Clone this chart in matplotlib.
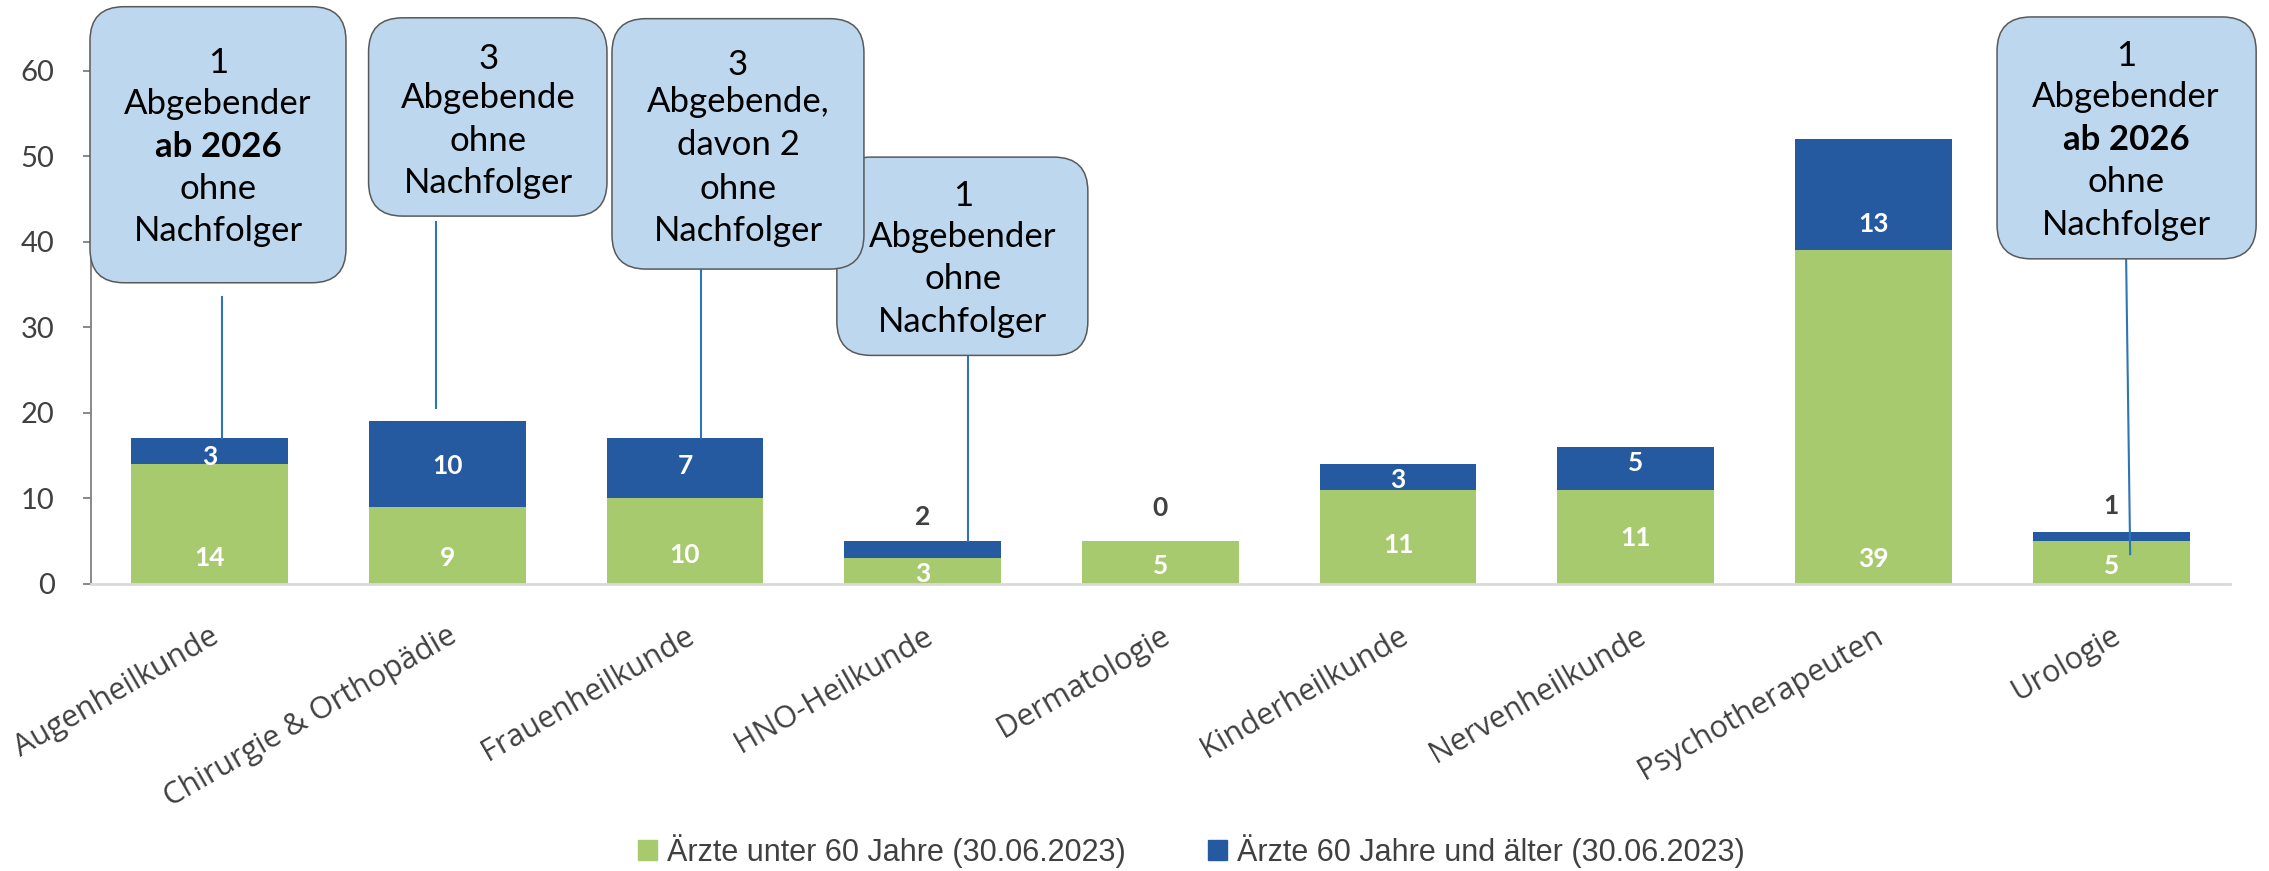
import matplotlib
matplotlib.use("Agg")
import matplotlib.pyplot as plt
from matplotlib.patches import FancyBboxPatch, Patch
import numpy as np

# Daten
fachgruppen = ["Augenheilkunde", "Chirurgie & Orthopädie", "Frauenheilkunde",
               "HNO-Heilkunde", "Dermatologie", "Kinderheilkunde",
               "Nervenheilkunde", "Psychotherapeuten", "Urologie"]
unter60 = [14, 9, 10, 3, 5, 11, 11, 39, 5]
ab60 = [3, 10, 7, 2, 0, 3, 5, 13, 1]
legende = ["Ärzte unter 60 Jahre (30.06.2023)", "Ärzte 60 Jahre und älter (30.06.2023)"]

# Lage der Zahlen in den Balken (wie im Original verschoben)
y_lbl_gruen = [3.0, 3.0, 3.3, 1.1, 2.1, 4.5, 5.3, 2.9, 2.1]
y_lbl_blau = [14.8, 13.8, 13.8, 7.8, 8.8, 12.1, 14.1, 42.1, 9.1]

gruen = "#A8CA6E"
blau = "#255AA0"
grau = "#404040"

# Legenden-Kästen: Zeilen, Kasten (x0, x1, y0, y1), Zeilen-y, Linie (x0, y0, x1, y1), zorder
callouts = [
    (["1", "Abgebender", "**ab 2026", "ohne", "Nachfolger"],
     (-0.503, 0.574, 35.2, 67.5), 0.036, [60.9, 56.1, 51.1, 46.2, 41.3],
     (0.052, 33.5, 0.052, 17), 10),
    (["3", "Abgebende", "ohne", "Nachfolger"],
     (0.669, 1.672, 43.0, 66.2), 1.172, [61.4, 56.8, 51.8, 46.9],
     (0.953, 42.3, 0.953, 20.5), 10),
    (["1", "Abgebender", "ohne", "Nachfolger"],
     (2.639, 3.695, 26.7, 49.9), 3.169, [45.3, 40.6, 35.6, 30.6],
     (3.191, 26.7, 3.191, 5), 8),
    (["3", "Abgebende,", "davon 2", "ohne", "Nachfolger"],
     (1.693, 2.753, 36.8, 66.1), 2.223, [60.7, 56.3, 51.3, 46.2, 41.2],
     (2.066, 36.8, 2.066, 17), 12),
    (["1", "Abgebender", "**ab 2026", "ohne", "Nachfolger"],
     (7.520, 8.610, 38.0, 66.3), 8.063, [61.7, 56.9, 51.9, 47.0, 42.0],
     (8.063, 38.0, 8.080, 3.45), 10),
]

fig = plt.figure(figsize=(22.69, 8.71), dpi=100)
ax = fig.add_axes([90.7 / 2269, (871 - 583.6) / 871, (2230 - 90.7) / 2269, (583.6 - 70.8) / 871])

x = np.arange(len(fachgruppen))
ax.bar(x, unter60, width=0.66, color=gruen, zorder=2)
ax.bar(x, ab60, width=0.66, bottom=unter60, color=blau, zorder=2)

ax.set_xlim(-0.5, len(fachgruppen) - 0.5)
ax.set_ylim(0, 60)
ax.set_yticks(range(0, 61, 10))
ax.tick_params(axis="y", length=6, width=1.3, color="#7F7F7F", pad=20,
               labelsize=21, labelcolor=grau)
for t in ax.get_yticklabels():
    t.set_family("Lato")
ax.set_xticks(x)
ax.set_xticklabels(fachgruppen, rotation=30, ha="right", rotation_mode="anchor",
                   fontsize=22, color=grau, family="Open Sans")
ax.tick_params(axis="x", length=0, pad=27)

for s in ["top", "right"]:
    ax.spines[s].set_visible(False)
ax.spines["left"].set_color("#7F7F7F")
ax.spines["left"].set_linewidth(1.3)
ax.spines["bottom"].set_color("#D9D9D9")
ax.spines["bottom"].set_linewidth(2)

# Zahlen
for i in range(len(x)):
    ax.text(x[i], y_lbl_gruen[i], str(unter60[i]), ha="center", va="center",
            color="white", fontsize=19, fontweight="bold", family="Lato", zorder=4)
    if ab60[i] <= 2:
        ax.text(x[i], y_lbl_blau[i], str(ab60[i]), ha="center", va="center",
                color=grau, fontsize=19, fontweight="bold", family="Lato", zorder=4)
    else:
        ax.text(x[i], y_lbl_blau[i], str(ab60[i]), ha="center", va="center",
                color="white", fontsize=19, fontweight="bold", family="Lato", zorder=4)

# Kästen
fig.canvas.draw()
p0 = ax.transData.transform((0, 0))
p1 = ax.transData.transform((1, 1))
aspect = (p1[0] - p0[0]) / (p1[1] - p0[1])
r = 34 / (p1[0] - p0[0])

for zeilen, box, cx, ys, linie, z in callouts:
    ax.plot([linie[0], linie[2]], [linie[1], linie[3]], color="#2E75B6", lw=1.5,
            zorder=3, clip_on=False)
    b = FancyBboxPatch((box[0], box[2]), box[1] - box[0], box[3] - box[2],
                       boxstyle="round,pad=0,rounding_size=%f" % r,
                       mutation_aspect=aspect, facecolor="#BDD7EE",
                       edgecolor="#595959", lw=1.1, zorder=z, clip_on=False)
    ax.add_patch(b)
    for zeile, yy in zip(zeilen, ys):
        fw = "normal"
        if zeile.startswith("**"):
            zeile = zeile[2:]
            fw = "bold"
        ax.text(cx, yy, zeile, ha="center", va="center", fontsize=25, family="Lato",
                fontweight=fw, color="black", zorder=z + 1, clip_on=False)

handles = [Patch(color=gruen), Patch(color=blau)]
fig.legend(handles, legende, loc="center", bbox_to_anchor=(0.525, 0.023), ncol=2,
           frameon=False, prop={"family": "Liberation Sans", "size": 22},
           labelcolor=grau, handlelength=0.62, handleheight=0.65,
           handletextpad=0.33, columnspacing=2.68, borderpad=0)

plt.savefig("out.png", dpi=100)
